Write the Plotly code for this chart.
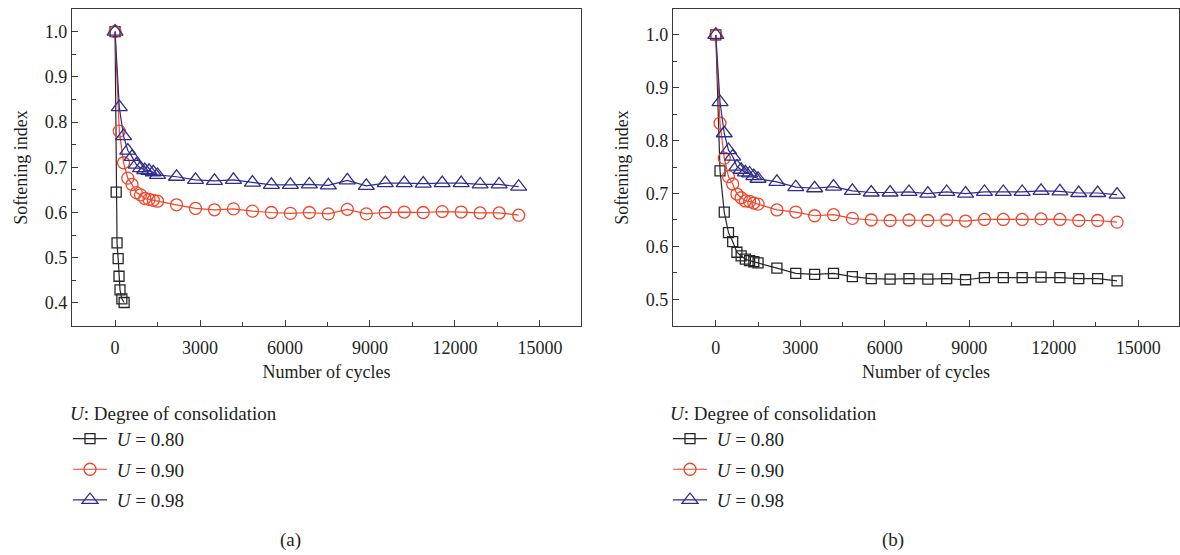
import plotly.graph_objects as go

# ---------------- data ----------------
cycles = [0, 150, 300, 450, 600, 750, 900, 1050, 1200, 1350, 1500,
          2170, 2840, 3510, 4180, 4850, 5520, 6190, 6860, 7530, 8200,
          8870, 9540, 10210, 10880, 11550, 12220, 12890, 13560, 14250]
cycles_a80 = [0, 40, 70, 110, 140, 175, 240, 320]

a_u80 = [1.0, 0.645, 0.533, 0.498, 0.459, 0.429, 0.409, 0.401]
a_u90 = [1.0, 0.780, 0.710, 0.676, 0.662, 0.644, 0.639, 0.631, 0.629, 0.627, 0.625,
         0.617, 0.609, 0.606, 0.608, 0.603, 0.600, 0.598, 0.600, 0.597, 0.607,
         0.597, 0.600, 0.601, 0.600, 0.602, 0.601, 0.599, 0.599, 0.594]
a_u98 = [1.0, 0.833, 0.769, 0.737, 0.723, 0.706, 0.698, 0.694, 0.692, 0.689, 0.683,
         0.679, 0.672, 0.670, 0.672, 0.666, 0.661, 0.661, 0.662, 0.660, 0.671,
         0.659, 0.665, 0.665, 0.664, 0.665, 0.665, 0.662, 0.662, 0.657]

b_u80 = [1.0, 0.743, 0.665, 0.626, 0.609, 0.589, 0.582, 0.576, 0.573, 0.571, 0.569,
         0.559, 0.549, 0.547, 0.549, 0.543, 0.539, 0.538, 0.539, 0.538, 0.539,
         0.537, 0.541, 0.541, 0.541, 0.542, 0.541, 0.539, 0.539, 0.535]
b_u90 = [1.0, 0.833, 0.767, 0.732, 0.718, 0.699, 0.692, 0.686, 0.685, 0.682, 0.680,
         0.669, 0.665, 0.658, 0.660, 0.653, 0.650, 0.649, 0.650, 0.649, 0.650,
         0.648, 0.651, 0.651, 0.651, 0.652, 0.651, 0.649, 0.649, 0.646]
b_u98 = [1.0, 0.873, 0.814, 0.782, 0.770, 0.751, 0.745, 0.740, 0.738, 0.733, 0.728,
         0.722, 0.712, 0.710, 0.713, 0.705, 0.702, 0.702, 0.703, 0.700, 0.703,
         0.700, 0.703, 0.703, 0.703, 0.705, 0.704, 0.701, 0.701, 0.698]

series_names = ["<i>U</i> = 0.80", "<i>U</i> = 0.90", "<i>U</i> = 0.98"]
colors = ["#262626", "#f0462a", "#302c8c"]
symbols = ["square-open", "circle-open", "triangle-up-open"]
msizes = [10, 12, 14]

x_ticks = [0, 3000, 6000, 9000, 12000, 15000]
legend_title = "<i>U</i>: Degree of consolidation"
panel_labels = ["(a)", "(b)"]

FONT = "Liberation Serif, Times New Roman, serif"
TXT = "#231f20"
AX = "#3a3a3a"

fig = go.Figure()

panels = [
    dict(xs=[cycles_a80, cycles, cycles], ys=[a_u80, a_u90, a_u98],
         xa="x", ya="y", legend="legend"),
    dict(xs=[cycles, cycles, cycles], ys=[b_u80, b_u90, b_u98],
         xa="x2", ya="y2", legend="legend2"),
]

for p in panels:
    for i in range(3):
        fig.add_trace(go.Scatter(
            x=p["xs"][i], y=p["ys"][i], mode="lines+markers",
            name="&nbsp;" + series_names[i], legend=p["legend"],
            legendgroup=f"{p['legend']}{i}",
            xaxis=p["xa"], yaxis=p["ya"],
            line=dict(color=colors[i], width=1.2),
            marker=dict(symbol=symbols[i], size=msizes[i], color=colors[i],
                        line=dict(width=1.3, color=colors[i])),
        ))

axis_common = dict(
    showline=True, linecolor=AX, linewidth=1.3, mirror=True,
    ticks="inside", ticklen=6, tickwidth=1.2, tickcolor=AX,
    showgrid=False, zeroline=False,
    tickfont=dict(family=FONT, size=18, color=TXT),
    title_font=dict(family=FONT, size=18, color=TXT),
)

xdef = dict(axis_common, range=[-1520, 16450], tickmode="array", tickvals=x_ticks,
            ticktext=[str(v) for v in x_ticks], ticklabelstandoff=5,
            minor=dict(ticks="inside", ticklen=3.5, dtick=1500, tick0=0,
                       tickcolor=AX, tickwidth=1.2),
            title=dict(text="Number of cycles", standoff=8))

ydef = dict(axis_common, dtick=0.1, tick0=0, tickformat=".1f",
            minor=dict(ticks="inside", ticklen=3.5, dtick=0.05, tick0=0,
                       tickcolor=AX, tickwidth=1.2),
            title=dict(text="Softening index", standoff=12))

fig.update_layout(
    width=1180, height=555,
    margin=dict(l=0, r=0, t=0, b=0),
    paper_bgcolor="white", plot_bgcolor="white",
    xaxis=dict(xdef, domain=[72 / 1180, 581 / 1180], anchor="y"),
    yaxis=dict(ydef, domain=[1 - 326 / 555, 1 - 9 / 555], anchor="x",
               range=[0.349, 1.05]),
    xaxis2=dict(xdef, domain=[673 / 1180, 1179 / 1180], anchor="y2"),
    yaxis2=dict(ydef, domain=[1 - 326 / 555, 1 - 9 / 555], anchor="x2",
                range=[0.4495, 1.049]),
)

leg_common = dict(
    xanchor="left", yanchor="top", orientation="v",
    bgcolor="rgba(0,0,0,0)", borderwidth=0,
    font=dict(family=FONT, size=19, color=TXT),
    title=dict(text=legend_title, font=dict(family=FONT, size=19, color=TXT)),
    tracegroupgap=3, itemwidth=34,
)
fig.update_layout(
    legend=dict(leg_common, x=68 / 1180, y=1 - 395 / 555),
    legend2=dict(leg_common, x=668 / 1180, y=1 - 395 / 555),
)

for lab, xc in zip(panel_labels, [290, 893]):
    fig.add_annotation(text=lab, xref="paper", yref="paper", x=xc / 1180, y=1 - 540 / 555,
                       showarrow=False, xanchor="center", yanchor="middle",
                       font=dict(family=FONT, size=19, color=TXT))

fig.write_html("out.html", config={"displayModeBar": False},
               post_script="document.body.style.margin='0';")
